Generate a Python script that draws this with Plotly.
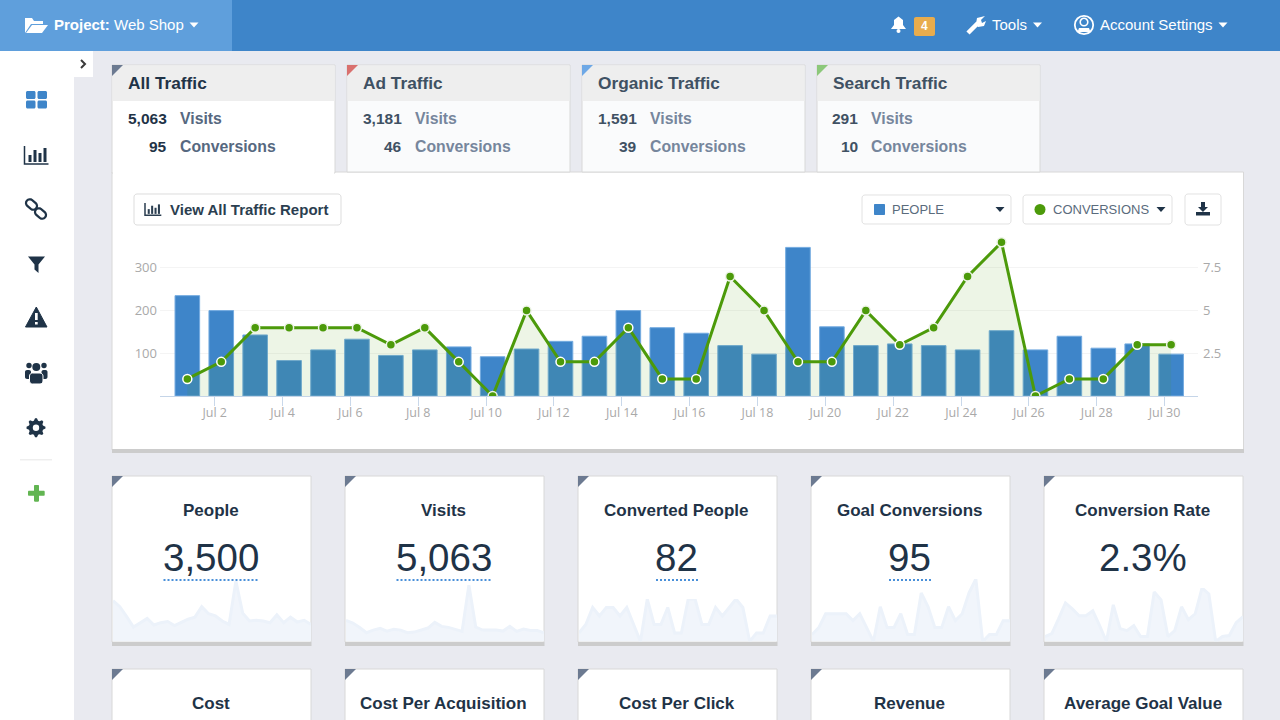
import math
import pandas as pd
import plotly.graph_objects as go

# daily values
dates = pd.date_range("2016-07-01 04:40", periods=30, freq="D")
people = [235, 200, 143, 83, 108, 133, 95, 108, 115, 92, 110, 128, 140, 200, 160,
          147, 118, 98, 348, 162, 118, 122, 118, 108, 153, 108, 140, 112, 122, 98]
conversions = [1, 2, 4, 4, 4, 4, 3, 4, 2, 0, 5, 2, 2, 4, 1,
               1, 7, 5, 2, 2, 5, 3, 4, 7, 9, 0, 1, 1, 3, 3]
visits = [256, 224, 171, 106, 138, 159, 126, 147, 138, 106, 114, 134, 163, 232, 183,
          171, 142, 122, 684, 175, 138, 138, 138, 126, 183, 122, 151, 134, 134, 106]
converted_people = [1, 2, 4, 3, 4, 4, 3, 4, 2, 0, 5, 2, 2, 4, 1,
                    1, 5, 5, 2, 2, 4, 3, 4, 5, 4, 0, 1, 1, 3, 3]
conversion_rate = [0.5, 0.8, 2.3, 3.9, 3.3, 2.6, 2.6, 3.1, 1.6, 0, 3.7, 1.3, 1.1, 1.6, 0.5,
                   0.5, 5.0, 4.2, 0.5, 1.1, 3.5, 2.2, 2.8, 5.4, 4.8, 0, 0.5, 0.6, 1.9, 2.5]

tick_dates = pd.date_range("2016-07-02", periods=15, freq="2D")
tick_labels = ["Jul %d" % d.day for d in tick_dates]

tab_names = ["All Traffic", "Ad Traffic", "Organic Traffic", "Search Traffic"]
tab_visits = ["5,063", "3,181", "1,591", "291"]
tab_conversions = ["95", "46", "39", "10"]
tab_colors = ["#6c7a91", "#d9706e", "#6ea8e6", "#8cc87a"]

kpi_row1 = ["People", "Visits", "Converted People", "Goal Conversions", "Conversion Rate"]
kpi_values = ["3,500", "5,063", "82", "95", "2.3%"]
kpi_row2 = ["Cost", "Cost Per Acquisition", "Cost Per Click", "Revenue", "Average Goal Value"]

BLUE = "#3e85c9"
GREEN = "#4c9a0a"
DARK = "#1f3347"
SANS = "Liberation Sans"

shapes = []
notes = []


def X(px):
    return px / 1280


def Y(py):
    return 1 - py / 720


def rect(x0, y0, x1, y1, fill, line=None, width=1):
    shapes.append(dict(type="rect", xref="paper", yref="paper", layer="below",
                       x0=X(x0), x1=X(x1), y0=Y(y0), y1=Y(y1), fillcolor=fill,
                       line=dict(color=line, width=width if line else 0)))


def poly(points, fill=None, line=None, width=1, close=True):
    d = "M" + " L".join("%.5f,%.5f" % (X(a), Y(b)) for a, b in points) + (" Z" if close else "")
    shapes.append(dict(type="path", xref="paper", yref="paper", layer="below", path=d,
                       fillcolor=fill if fill else "rgba(0,0,0,0)",
                       line=dict(color=line, width=width if line else 0)))


def rounded(x0, y0, x1, y1, r, fill, line=None):
    pts = []
    for cx, cy, a in [(x1 - r, y0 + r, -90), (x1 - r, y1 - r, 0), (x0 + r, y1 - r, 90), (x0 + r, y0 + r, 180)]:
        for k in range(5):
            t = math.radians(a + k * 22.5)
            pts.append((cx + r * math.cos(t), cy + r * math.sin(t)))
    poly(pts, fill, line)


def circle(cx, cy, r, fill, line=None, width=1):
    shapes.append(dict(type="circle", xref="paper", yref="paper", layer="below",
                       x0=X(cx - r), x1=X(cx + r), y0=Y(cy - r), y1=Y(cy + r),
                       fillcolor=fill, line=dict(color=line, width=width if line else 0)))


def capsule(cx, cy, length, r, angle, line, width):
    pts = []
    ca, sa = math.cos(math.radians(angle)), math.sin(math.radians(angle))
    for end, start in [(length / 2, -90), (-length / 2, 90)]:
        for k in range(9):
            t = math.radians(start + k * 22.5)
            u, v = end + r * math.cos(t), r * math.sin(t)
            pts.append((cx + u * ca - v * sa, cy + u * sa + v * ca))
    poly(pts, None, line, width)


def caret(cx, cy, color, half=4.5):
    poly([(cx - half, cy - 2.5), (cx + half, cy - 2.5), (cx, cy + 2.5)], color)


def txt(x, y, text, size, color, anchor="left", bold=False, family=SANS):
    # annotations land about a pixel off, nudge them back
    nudge = {"left": -1, "center": -0.7, "right": 1}[anchor]
    notes.append(dict(xref="paper", yref="paper", x=X(x + nudge), y=Y(y), showarrow=False,
                      text="<b>%s</b>" % text if bold else text, xanchor=anchor, yanchor="middle",
                      font=dict(family=family, size=size, color=color), borderpad=0))


def chart_icon(x, y, color, s=1.0):
    poly([(x, y), (x, y + 18 * s), (x + 24 * s, y + 18 * s)], None, color, 1.5, close=False)
    for off, h in [(4, 7), (9, 12), (14, 9), (19, 14)]:
        rect(x + off * s, y + (16 - h) * s, x + (off + 3) * s, y + 16 * s, color)


# top bar and sidebar
rect(0, 0, 1280, 51, BLUE)
rect(0, 0, 232, 51, "#5f9fdc")
poly([(25, 33), (25, 18), (32, 18), (34, 21), (43, 21), (43, 24), (31, 24), (25, 33)], "white")
poly([(26, 33), (32, 25), (48, 25), (42, 33)], "white")
txt(54, 25, "<b>Project:</b> Web Shop", 15, "white")
caret(194, 25, "white")

poly([(891, 29), (894, 25), (894, 20), (898.5, 16.5), (903, 20), (903, 25), (906, 29)], "white")
circle(898.5, 31, 2, "white")
rounded(914, 17, 935, 36, 2, "#e8ac4d")
txt(925, 26.5, "4", 12, "white", "center", True)
poly([(968, 33), (978, 23)], None, "white", 4.5, close=False)
poly([(976, 24), (977, 18), (985, 16), (981, 20), (982, 23), (986, 21), (984, 26), (978, 27)], "white")
txt(992, 25, "Tools", 15, "white")
caret(1037.5, 25, "white")
circle(1084, 25, 9.2, "rgba(0,0,0,0)", "white", 1.8)
circle(1084, 22, 3.8, "rgba(0,0,0,0)", "white", 1.6)
poly([(1077.5, 32), (1079, 28), (1089, 28), (1090.5, 32)], "white")
txt(1100, 25, "Account Settings", 15, "white")
caret(1223, 25, "white")

rect(0, 51, 74, 720, "white")
rect(74, 51, 93, 77, "white")
poly([(81, 60), (85, 64), (81, 68)], None, "#3a3a3a", 2, close=False)

for gx, gy in [(26, 91), (37.5, 91), (26, 100.5), (37.5, 100.5)]:
    rounded(gx, gy, gx + 9.5, gy + 8, 1.5, BLUE)
chart_icon(24.5, 146, DARK)
capsule(31.5, 204.5, 4.5, 3.8, 40, DARK, 2.2)
capsule(40.5, 213.5, 4.5, 3.8, 40, DARK, 2.2)
poly([(28, 256.5), (45, 256.5), (38.5, 264.5), (38.5, 273), (34.5, 269.5), (34.5, 264.5)], DARK)
poly([(36.3, 307), (47, 327), (25.5, 327)], DARK, DARK, 1)
rect(35, 313, 37.7, 320, "white")
rect(35, 322, 37.7, 324.5, "white")
for cx, cy, r in [(29, 365.5, 2.7), (44, 365.5, 2.7), (36.3, 367, 4)]:
    circle(cx, cy, r, DARK)
rounded(25, 370, 31, 379, 2, DARK)
rounded(41.5, 370, 47.5, 379, 2, DARK)
rounded(29.5, 373, 43, 384, 3, DARK, "white")
gear = []
for k in range(32):
    t = math.radians(k * 11.25)
    r = 9.5 if k % 4 in (0, 1) else 7.3
    gear.append((36 + r * math.cos(t - 0.1), 427.7 + r * math.sin(t - 0.1)))
poly(gear, DARK)
circle(36, 427.7, 3.2, "white")
rect(20, 459, 52, 460.5, "#eeeeee")
rounded(34, 485, 39, 501.7, 1, "#62b552")
rounded(28, 490.8, 44.7, 495.8, 1, "#62b552")

# traffic tabs
tab_lefts = [112, 347, 582, 817]
rect(112, 172, 1243.5, 450, "white", "#d8d8d8")
rect(112, 449, 1244, 453, "#cccccc")
for i, left in enumerate(tab_lefts):
    body = "white" if i == 0 else "#fafbfc"
    bottom = 173 if i == 0 else 172
    rect(left, 65, left + 223, bottom, body, "#d8d8d8")
    rect(left + 0.5, 65.5, left + 222.5, 101, "#eeeeee")
    poly([(left, 65), (left + 11, 65), (left, 76)], tab_colors[i])
    head, num, label = (DARK, DARK, "#566880") if i == 0 else ("#3f5163", "#3f5163", "#76869c")
    txt(left + 16, 83, tab_names[i], 17.3, head, bold=True)
    num_right = [167, 402, 637, 858][i]
    txt(num_right, 119, tab_visits[i], 15.5, num, "right", True)
    txt(num_right, 147, tab_conversions[i], 15.5, num, "right", True)
    txt(num_right + 13, 119, "Visits", 15.8, label, bold=True)
    txt(num_right + 13, 147, "Conversions", 15.8, label, bold=True)
rect(113, 171, 334, 174, "white")

# chart controls
rounded(134, 194, 341, 225, 3, "white", "#dddddd")
chart_icon(145, 203, "#2b3e50", 0.68)
txt(170, 209, "View All Traffic Report", 15, "#2b3e50", bold=True)
rounded(862, 195, 1011, 224, 3, "white", "#e2e2e2")
rounded(874, 204, 885, 215, 1, BLUE)
txt(892, 209.5, "PEOPLE", 13, "#5a6b7c")
caret(1000, 209.5, "#1f3347")
rounded(1023, 195, 1172, 224, 3, "white", "#e2e2e2")
circle(1040, 209.5, 5.5, GREEN)
txt(1053, 209.5, "CONVERSIONS", 13, "#5a6b7c")
caret(1161, 209.5, "#1f3347")
rounded(1185, 194, 1221, 225, 3, "white", "#e2e2e2")
poly([(1201, 202), (1205, 202), (1205, 207), (1208, 207), (1203, 212), (1198, 207), (1201, 207)], "#1f3347")
rect(1196, 212, 1210, 215.5, "#1f3347")

# KPI cards
card_lefts = [112, 345, 578, 811, 1044]
underline = [48, 48, 21.5, 21.5, 0]
for i, left in enumerate(card_lefts):
    mid = left + 99.5
    rect(left, 476, left + 199, 642, "white", "#d8d8d8")
    rect(left, 642, left + 199.5, 646, "#cccccc")
    poly([(left, 476), (left + 11, 476), (left, 487)], "#6c7a91")
    txt(mid, 510, kpi_row1[i], 17, DARK, "center", True)
    txt(mid, 557, kpi_values[i], 38.5, DARK, "center")
    if underline[i]:
        shapes.append(dict(type="line", xref="paper", yref="paper", layer="below",
                           x0=X(mid - underline[i]), x1=X(mid + underline[i]), y0=Y(580), y1=Y(580),
                           line=dict(color="#4a90d9", width=2, dash="2px,2px")))
    rect(left, 669, left + 199, 722, "white", "#d8d8d8")
    poly([(left, 669), (left + 11, 669), (left, 680)], "#6c7a91")
    txt(mid, 703, kpi_row2[i], 17, DARK, "center", True)

fig = go.Figure()

# the white ring only shows where a point sits on top of a bar
ring = ["white" if 0 < c * 40 <= p else "#eef4e8" for c, p in zip(conversions, people)]

fig.add_trace(go.Bar(x=dates, y=people, name="People",
                     marker=dict(color=BLUE, line=dict(color="#74abe0", width=1))))
fig.add_trace(go.Scatter(x=dates, y=conversions, name="Conversions", yaxis="y2", mode="lines+markers",
                         line=dict(color=GREEN, width=3), fill="tozeroy", fillcolor="rgba(76,154,10,0.10)",
                         marker=dict(color=GREEN, size=9, line=dict(color=ring, width=1.5))))

spark_series = [people, visits, converted_people, conversions, conversion_rate]
spark_tops = [581, 585, 599, 579, 588]
axes = {}
for i, series in enumerate(spark_series):
    xname, yname = "x%d" % (i + 2), "y%d" % (i + 3)
    fig.add_trace(go.Scatter(x=dates, y=series, xaxis=xname, yaxis=yname, mode="lines", name=kpi_row1[i],
                             line=dict(color="#ecf2fa", width=3), fill="tozeroy", fillcolor="#f1f5fb"))
    axes["xaxis%d" % (i + 2)] = dict(domain=[X(card_lefts[i] + 1), X(card_lefts[i] + 199)], anchor=yname,
                                     visible=False, range=[dates[0], dates[-1]], fixedrange=True)
    axes["yaxis%d" % (i + 3)] = dict(domain=[Y(641.5), Y(spark_tops[i])], anchor=xname,
                                     visible=False, range=[0, max(series)], fixedrange=True)

tick_font = dict(family="Open Sans", size=13, color="#a9a9a9")
fig.update_layout(
    width=1280, height=720, autosize=False,
    margin=dict(l=0, r=0, t=0, b=0),
    paper_bgcolor="#e9eaf0", plot_bgcolor="rgba(0,0,0,0)",
    showlegend=False, bargap=0.275,
    shapes=shapes, annotations=notes,
    xaxis=dict(domain=[X(160), X(1198)], anchor="y", type="date",
               range=["2016-06-30 09:20", "2016-07-30 23:40"],
               tickvals=list(tick_dates), ticktext=tick_labels,
               tickfont=dict(family="Open Sans", size=12.5, color="#a9a9a9"),
               ticks="outside", ticklen=9, tickcolor="#c9d8ea", ticklabelstandoff=-4, showgrid=False,
               showline=True, linecolor="#c5d5e8", linewidth=1),
    yaxis=dict(domain=[Y(396), Y(236)], range=[0, 374.7], tickvals=[100, 200, 300], tickfont=tick_font,
               gridcolor="#f4f4f4", zeroline=False, ticks="", ticklabelstandoff=2),
    yaxis2=dict(overlaying="y", side="right", range=[0, 9.37], tickvals=[2.5, 5, 7.5], ticktext=["2.5", "5", "7.5"],
                tickfont=tick_font, showgrid=False, zeroline=False, ticks="", ticklabelstandoff=4),
    **axes,
)

fig.write_html("out.html", config=dict(displayModeBar=False),
               post_script="document.body.style.margin='0';document.body.style.overflow='hidden';")
